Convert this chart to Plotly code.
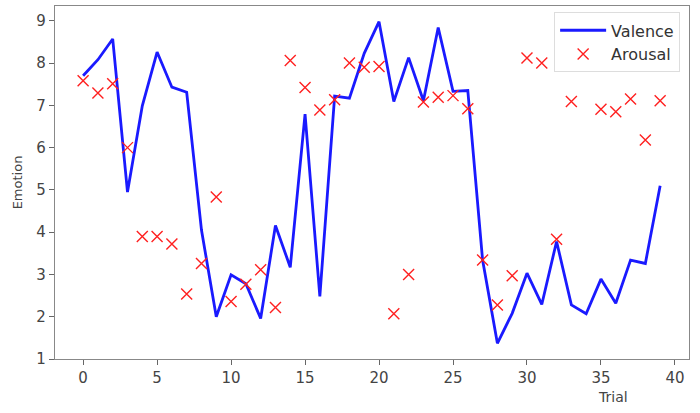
import plotly.graph_objects as go

# Datos
trials = list(range(40))
valence = [7.70, 8.08, 8.57, 4.95, 6.99, 8.26, 7.43, 7.31, 4.05, 2.00,
           2.99, 2.78, 1.96, 4.16, 3.17, 6.79, 2.48, 7.22, 7.17, 8.23,
           8.98, 7.09, 8.13, 7.11, 8.84, 7.33, 7.35, 3.34, 1.37, 2.08,
           3.03, 2.29, 3.78, 2.28, 2.07, 2.89, 2.32, 3.34, 3.26, 5.10]
arousal = [7.58, 7.29, 7.51, 6.00, 3.90, 3.90, 3.72, 2.54, 3.26, 4.83,
           2.36, 2.77, 3.11, 2.22, 8.06, 7.42, 6.89, 7.13, 8.00, 7.90,
           7.92, 2.07, 3.00, 7.08, 7.19, 7.23, 6.92, 3.34, 2.28, 2.97,
           8.12, 8.00, 3.83, 7.09, 8.12, 6.91, 6.85, 7.15, 6.18, 7.11]
x_ticks = [0, 5, 10, 15, 20, 25, 30, 35, 40]
y_ticks = [1, 2, 3, 4, 5, 6, 7, 8, 9]

fig = go.Figure()
fig.add_trace(go.Scatter(
    x=trials, y=valence, mode="lines", name="Valence",
    line=dict(color="#1a1aff", width=2.8)
))
fig.add_trace(go.Scatter(
    x=trials, y=arousal, mode="markers", name="Arousal",
    marker=dict(symbol="x-thin", size=11, line=dict(color="#ff2020", width=1.4))
))

axis_style = dict(
    showgrid=False, zeroline=False, showline=True, linecolor="#888888",
    linewidth=1.3, mirror=True, ticks="outside", tickcolor="#666666",
    ticklen=5, tickfont=dict(size=15, color="#444444"), automargin=False
)

fig.update_layout(
    width=700, height=413,
    margin=dict(l=55, r=11, t=6, b=54),
    paper_bgcolor="white", plot_bgcolor="white",
    font=dict(family="DejaVu Sans", color="#444444"),
    showlegend=True,
    legend=dict(
        x=0.986, y=0.982, xanchor="right", yanchor="top",
        bgcolor="white", bordercolor="#dddddd", borderwidth=1,
        font=dict(size=16, color="#333333"), itemwidth=46,
        tracegroupgap=0
    ),
    xaxis=dict(range=[-1.9, 40.95], tickvals=x_ticks, **axis_style),
    yaxis=dict(range=[1.0, 9.35], tickvals=y_ticks, **axis_style),
)
fig.update_yaxes(title=dict(text="Emotion", font=dict(size=13)), title_standoff=10)

# Título del eje x desplazado a la derecha, como en el original
fig.add_annotation(
    text="Trial", xref="paper", yref="paper", x=0.88, y=-0.08,
    xanchor="center", yanchor="top", showarrow=False,
    font=dict(size=14, color="#444444")
)

fig.write_html("out.html", config={"displayModeBar": False},
               post_script="document.body.style.margin='0';")
